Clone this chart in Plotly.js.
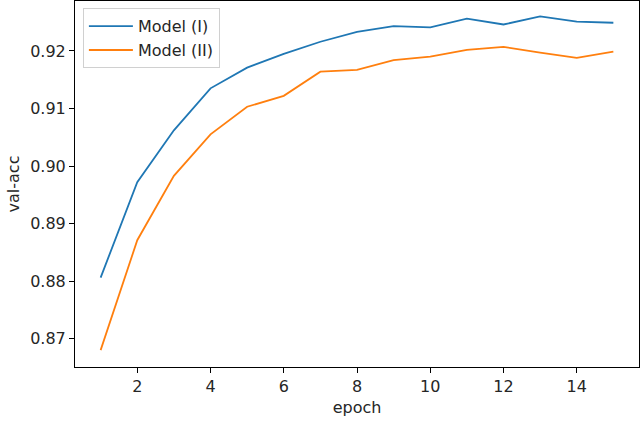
<!DOCTYPE html>
<html>
<head>
<meta charset="utf-8">
<script src="https://cdn.plot.ly/plotly-3.0.1.min.js"></script>
<style>
  html, body { margin: 0; padding: 0; background: #fff; }
  #chart { width: 640px; height: 421px; }
</style>
</head>
<body>
<div id="chart"></div>
<script>
// Validation accuracy per epoch
var epochs = [1, 2, 3, 4, 5, 6, 7, 8, 9, 10, 11, 12, 13, 14, 15];
var modelOne = [0.8806, 0.8972, 0.9062, 0.9135, 0.9171, 0.9195, 0.9216, 0.9233, 0.9243, 0.9241, 0.9256, 0.9246, 0.9260, 0.9251, 0.9249];
var modelTwo = [0.8680, 0.8871, 0.8983, 0.9055, 0.9103, 0.9122, 0.9164, 0.9167, 0.9184, 0.9190, 0.9202, 0.9207, 0.9197, 0.9188, 0.9199];
var xTicks = [2, 4, 6, 8, 10, 12, 14];
var yTicks = [0.87, 0.88, 0.89, 0.90, 0.91, 0.92];
var yTickText = ['0.87', '0.88', '0.89', '0.90', '0.91', '0.92'];

var FONT = 'DejaVu Sans, sans-serif';
var TEXT = { family: FONT, size: 16, color: '#262626' };

var traces = [
  {
    x: epochs, y: modelOne, type: 'scatter', mode: 'lines',
    name: 'Model (I)', line: { color: '#1f77b4', width: 1.8 }
  },
  {
    x: epochs, y: modelTwo, type: 'scatter', mode: 'lines',
    name: 'Model (II)', line: { color: '#ff7f0e', width: 1.8 }
  }
];

var layout = {
  width: 640,
  height: 421,
  margin: { l: 75, r: 1, t: 1, b: 54 },
  paper_bgcolor: '#fff',
  plot_bgcolor: '#fff',
  font: TEXT,
  showlegend: true,
  legend: {
    x: 0.014, y: 0.98, xanchor: 'left', yanchor: 'top',
    bgcolor: 'rgba(255,255,255,0.8)', bordercolor: '#d0d0d0', borderwidth: 1,
    font: TEXT,
    itemwidth: 44,
    tracegroupgap: 0
  },
  xaxis: {
    range: [0.3, 15.7],
    tickvals: xTicks,
    ticks: 'outside', ticklen: 5, tickwidth: 1, tickcolor: '#000',
    showgrid: false, zeroline: false,
    showline: true, linecolor: '#000', linewidth: 1, mirror: true,
    tickfont: TEXT,
    title: { text: 'epoch', font: TEXT, standoff: 6 }
  },
  yaxis: {
    range: [0.86507, 0.92868],
    tickvals: yTicks,
    ticktext: yTickText,
    ticks: 'outside', ticklen: 5, tickwidth: 1, tickcolor: '#000',
    showgrid: false, zeroline: false,
    showline: true, linecolor: '#000', linewidth: 1, mirror: true,
    tickfont: TEXT,
    title: { text: 'val-acc', font: TEXT, standoff: 6 }
  }
};

Plotly.newPlot('chart', traces, layout, { displayModeBar: false, staticPlot: true });
</script>
</body>
</html>
